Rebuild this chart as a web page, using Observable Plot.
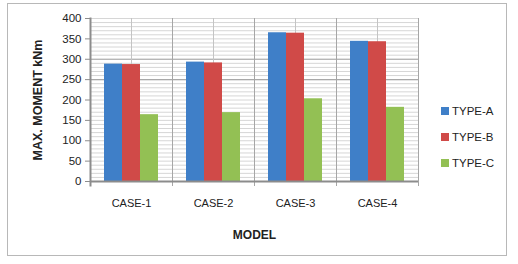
<!DOCTYPE html>
<html>
<head>
<meta charset="utf-8">
<script src="https://cdn.jsdelivr.net/npm/d3@7"></script>
<script src="https://cdn.jsdelivr.net/npm/@observablehq/plot@0.6"></script>
<style>
  html, body { margin: 0; padding: 0; background: #fff; }
  #wrap { position: relative; width: 518px; height: 264px; font-family: "Liberation Sans", Arial, sans-serif; }
  #border { position: absolute; left: 7px; top: 3px; width: 500px; height: 253px; border: 1.5px solid #b8b8b8; box-sizing: border-box; }
  #chart { position: absolute; left: 0; top: 0; }
  #legend { position: absolute; left: 441px; top: 98px; font-size: 11.5px; color: #222; }
  .item { display: flex; align-items: center; height: 26px; }
  .sw { width: 8px; height: 8px; margin-right: 3px; }
</style>
</head>
<body>
<div id="wrap">
  <div id="border"></div>
  <div id="chart"></div>
  <div id="legend"></div>
</div>
<script>
const cases = ["CASE-1", "CASE-2", "CASE-3", "CASE-4"];
const types = ["TYPE-A", "TYPE-B", "TYPE-C"];
const typeA = [288, 293, 365, 344];
const typeB = [287, 291, 364, 343];
const typeC = [164, 169, 203, 182];
const yTicks = [0, 50, 100, 150, 200, 250, 300, 350, 400];
const minorTicks = d3.range(0, 401, 10);
const darkTicks = [250, 300];
const colors = ["#3F7FC8", "#D04A48", "#93C054"];

const series = [typeA, typeB, typeC];
const rows = [];
cases.forEach((c, i) => types.forEach((t, j) => rows.push({ case: c, type: t, value: series[j][i] })));

const chart = Plot.plot({
  width: 518,
  height: 264,
  marginLeft: 89,
  marginRight: 100,
  marginTop: 18,
  marginBottom: 83,
  style: { fontFamily: "Liberation Sans, Arial, sans-serif", background: "transparent", overflow: "visible" },
  fx: { domain: cases, padding: 0, label: null },
  x: { domain: types, paddingInner: 0, paddingOuter: 0.69, axis: null },
  y: { domain: [0, 400], label: null },
  color: { domain: types, range: colors },
  marks: [
    Plot.gridY(minorTicks, { stroke: "#d6d6d6", strokeOpacity: 1 }),
    Plot.gridY(darkTicks, { stroke: "#a8a8a8", strokeOpacity: 1, strokeWidth: 1.2 }),
    Plot.ruleX(["TYPE-B"], { stroke: "#c4c4c4" }),
    Plot.frame({ anchor: "right", stroke: "#a6a6a6", insetBottom: -4 }),
    Plot.barY(rows, { fx: "case", x: "type", y: "value", fill: "type" }),
    Plot.ruleY([0], { stroke: "#8c8c8c", strokeWidth: 2 }),
    Plot.frame({ anchor: "left", facetAnchor: "left", stroke: "#8c8c8c", strokeWidth: 2, insetBottom: -4 }),
    Plot.axisY(yTicks, { tickSize: 5, tickPadding: 4, fontSize: 11.5, stroke: "#8c8c8c", color: "#222", label: null }),
    Plot.axisFx({ anchor: "bottom", tickSize: 0, tickPadding: 18, fontSize: 11, color: "#222", label: null }),
    Plot.text(["MAX. MOMENT kNm"], { frameAnchor: "left", textAnchor: "middle", dx: -53, rotate: -90, fontSize: 12.5, fontWeight: "bold", fill: "#222", facetAnchor: "left" }),
    Plot.text(["MODEL"], { frameAnchor: "bottom", dy: 57, fontSize: 12, fontWeight: "bold", fill: "#222", facet: "super" })
  ]
});
document.getElementById("chart").appendChild(chart);

const legend = document.getElementById("legend");
types.forEach((t, i) => {
  const d = document.createElement("div");
  d.className = "item";
  d.innerHTML = `<span class="sw" style="background:${colors[i]}"></span><span>${t}</span>`;
  legend.appendChild(d);
});
</script>
</body>
</html>
